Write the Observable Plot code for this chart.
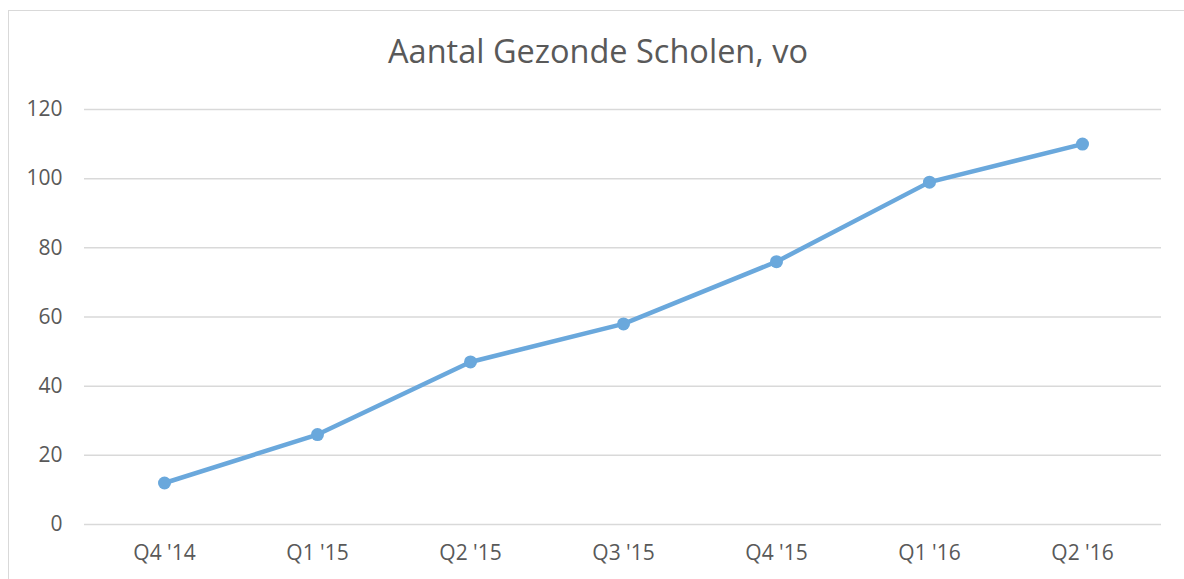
<!DOCTYPE html>
<html>
<head>
<meta charset="utf-8">
<script src="https://cdn.jsdelivr.net/npm/d3@7"></script>
<script src="https://cdn.jsdelivr.net/npm/@observablehq/plot@0.6"></script>
<style>
  html, body { margin: 0; padding: 0; background: #fff; overflow: hidden; }
  #wrap { position: relative; width: 1184px; height: 579px; }
  #frame { position: absolute; left: 8px; top: 10px; width: 1200px; height: 600px; border: 1.5px solid #d9d9d9; box-sizing: border-box; }
  #title { position: absolute; left: 0; width: 1196px; top: 31px; line-height: 40px; text-align: center; font-family: "Open Sans", sans-serif; font-size: 32.5px; color: #595959; }
  #chart { position: absolute; left: 0; top: 0; }
</style>
</head>
<body>
<div id="wrap">
  <div id="frame"></div>
  <div id="title">Aantal Gezonde Scholen, vo</div>
  <div id="chart"></div>
</div>
<script>
const quarters = ["Q4 '14", "Q1 '15", "Q2 '15", "Q3 '15", "Q4 '15", "Q1 '16", "Q2 '16"];
const values = [12, 26, 47, 58, 76, 99, 110];
const yTicks = [0, 20, 40, 60, 80, 100, 120];

const data = quarters.map((q, i) => ({q, v: values[i]}));
const color = "#6aa8dc";

const plot = Plot.plot({
  width: 1184,
  height: 579,
  marginLeft: 84,
  marginRight: 23,
  marginTop: 109,
  marginBottom: 55,
  style: { fontFamily: "Open Sans, sans-serif", fontSize: "21px", color: "#595959", background: "transparent" },
  x: { type: "point", domain: quarters, padding: 0.5, label: null },
  y: { domain: [0, 120], label: null },
  marks: [
    Plot.ruleY(yTicks, { stroke: "#d9d9d9", strokeWidth: 1.5, strokeOpacity: 1 }),
    Plot.axisY({ ticks: yTicks, tickSize: 0, tickPadding: 22, label: null, fontSize: 21, fill: "#595959" }),
    Plot.axisX({ tickSize: 0, tickPadding: 21, label: null, fontSize: 21, fill: "#595959" }),
    Plot.line(data, { x: "q", y: "v", stroke: color, strokeWidth: 4.5 }),
    Plot.dot(data, { x: "q", y: "v", fill: color, r: 6.5 })
  ]
});
document.getElementById("chart").appendChild(plot);
</script>
</body>
</html>
